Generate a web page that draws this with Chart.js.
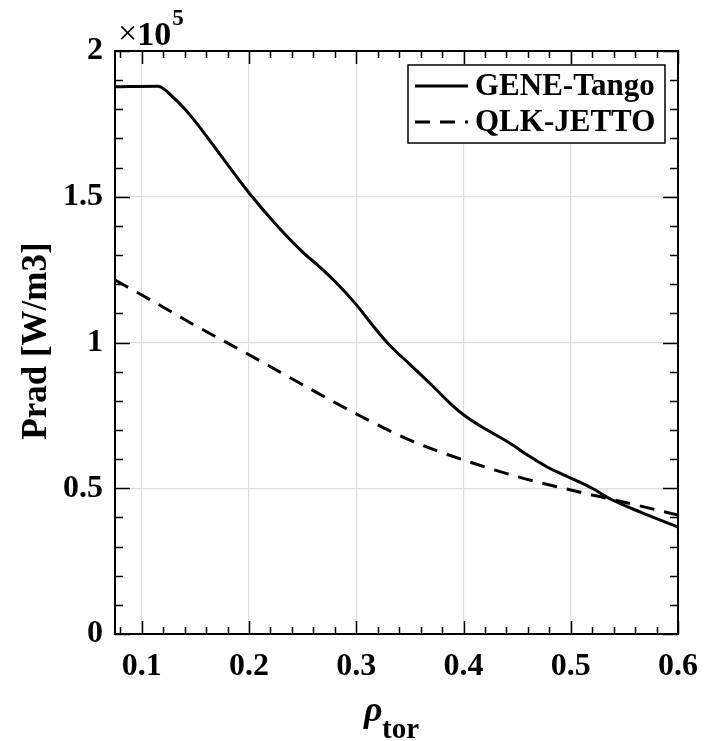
<!DOCTYPE html>
<html>
<head>
<meta charset="utf-8">
<script src="https://cdn.jsdelivr.net/npm/chart.js@4.4.0/dist/chart.umd.min.js"></script>
<style>
  html, body { margin: 0; padding: 0; background: #fff; }
  #wrap { width: 704px; height: 741px; }
</style>
</head>
<body>
<div id="wrap"><canvas id="chartPrad"></canvas></div>
<script>
// Prad radial profile, GENE-Tango vs QLK-JETTO
const rhoGene = [0.075, 0.115, 0.13, 0.145, 0.165, 0.18, 0.2, 0.23, 0.25, 0.265, 0.28, 0.3, 0.315, 0.33, 0.35, 0.37, 0.385, 0.4, 0.415, 0.443, 0.46, 0.478, 0.5, 0.52, 0.537, 0.565, 0.6];
const pradGene = [187700, 187900, 183800, 178000, 168500, 161000, 151300, 138500, 131000, 126200, 121000, 113000, 106000, 99500, 92500, 85500, 80000, 75200, 71500, 65500, 61300, 57300, 53500, 50000, 46300, 41800, 36700];

const rhoQlk = [0.075, 0.1, 0.15, 0.2, 0.25, 0.3, 0.35, 0.4, 0.45, 0.5, 0.55, 0.6];
const pradQlk = [121400, 116300, 105800, 95800, 85500, 75500, 66500, 59700, 54000, 49400, 45200, 40800];

const xMajor = [0.1, 0.2, 0.3, 0.4, 0.5, 0.6];
const yMajor = [0, 50000, 100000, 150000, 200000];

const serif = '"Liberation Serif", "Times New Roman", serif';

function toPoints(xs, ys) {
    return xs.map((x, i) => ({ x: x, y: ys[i] }));
}

// ticks pointing inwards on all four sides, box, legend, axis titles
const decorPlugin = {
    id: 'decor',
    afterDatasetsDraw(chart) {
        const ctx = chart.ctx;
        const a = chart.chartArea;
        const xs = chart.scales.x;
        const ys = chart.scales.y;
        ctx.save();
        ctx.strokeStyle = '#000';
        ctx.lineWidth = 1.5;

        // x ticks
        for (let v = 0.08; v <= 0.6001; v += 0.02) {
            const isMajor = xMajor.some(m => Math.abs(m - v) < 1e-6);
            const len = isMajor ? 13 : 7;
            const px = Math.round(xs.getPixelForValue(v)) + 0.5;
            ctx.beginPath();
            ctx.moveTo(px, a.bottom); ctx.lineTo(px, a.bottom - len);
            ctx.moveTo(px, a.top); ctx.lineTo(px, a.top + len);
            ctx.stroke();
        }
        // y ticks
        for (let v = 0; v <= 200001; v += 10000) {
            const isMajor = yMajor.includes(v);
            const len = isMajor ? 15 : 8;
            const py = Math.round(ys.getPixelForValue(v)) + 0.5;
            ctx.beginPath();
            ctx.moveTo(a.left, py); ctx.lineTo(a.left + len, py);
            ctx.moveTo(a.right, py); ctx.lineTo(a.right - len, py);
            ctx.stroke();
        }
        // box
        ctx.lineWidth = 2;
        ctx.strokeRect(a.left, a.top, a.right - a.left, a.bottom - a.top);

        // legend
        const lx = 408, ly = 65, lw = 257, lh = 78;
        ctx.fillStyle = '#fff';
        ctx.fillRect(lx, ly, lw, lh);
        ctx.lineWidth = 1.5;
        ctx.strokeRect(lx, ly, lw, lh);
        const rows = [86, 122];
        chart.data.datasets.forEach((ds, i) => {
            ctx.beginPath();
            ctx.lineWidth = 3;
            ctx.setLineDash(ds.borderDash || []);
            ctx.moveTo(415, rows[i]); ctx.lineTo(468, rows[i]);
            ctx.stroke();
            ctx.setLineDash([]);
            ctx.fillStyle = '#000';
            ctx.font = 'bold 31px ' + serif;
            ctx.textAlign = 'left';
            ctx.textBaseline = 'middle';
            ctx.fillText(ds.label, 475, rows[i] + 1);
        });

        // exponent above y axis
        ctx.fillStyle = '#000';
        ctx.textAlign = 'left';
        ctx.textBaseline = 'alphabetic';
        ctx.font = '34px ' + serif;
        ctx.fillText('\u00d7', 118, 44);
        const wx = ctx.measureText('\u00d7').width;
        ctx.font = 'bold 34px ' + serif;
        ctx.fillText('10', 118 + wx, 45);
        const w10 = ctx.measureText('10').width;
        ctx.font = 'bold 23px ' + serif;
        ctx.fillText('5', 118 + wx + w10 + 1, 25);

        // y title
        ctx.save();
        ctx.translate(37, 341);
        ctx.rotate(-Math.PI / 2);
        ctx.textAlign = 'center';
        ctx.textBaseline = 'middle';
        ctx.font = 'bold 35px ' + serif;
        ctx.fillText('Prad [W/m3]', 0, 0);
        ctx.restore();

        // x title: rho with subscript
        ctx.textAlign = 'left';
        ctx.textBaseline = 'alphabetic';
        ctx.font = 'italic bold 36px ' + serif;
        ctx.fillText('\u03c1', 364, 721);
        ctx.font = 'bold 29px ' + serif;
        ctx.fillText('tor', 382, 738);
        ctx.restore();
    }
};

new Chart(document.getElementById('chartPrad'), {
    type: 'line',
    data: {
        datasets: [{
            label: 'GENE-Tango',
            data: toPoints(rhoGene, pradGene),
            borderColor: '#000',
            borderWidth: 3,
            pointRadius: 0,
            cubicInterpolationMode: 'monotone'
        }, {
            label: 'QLK-JETTO',
            data: toPoints(rhoQlk, pradQlk),
            borderColor: '#000',
            borderWidth: 3,
            borderDash: [15, 10],
            pointRadius: 0,
            cubicInterpolationMode: 'monotone'
        }]
    },
    options: {
        responsive: true,
        maintainAspectRatio: false,
        animation: false,
        layout: {
            padding: { left: 0, right: 26, top: 51, bottom: 0 }
        },
        scales: {
            x: {
                type: 'linear',
                min: 0.075,
                max: 0.6,
                afterBuildTicks: (scale) => {
                    scale.ticks = xMajor.map(v => ({ value: v }));
                },
                afterFit: (scale) => {
                    scale.height = 107;
                    scale.paddingLeft = 0;
                    scale.paddingRight = 0;
                },
                grid: { color: '#dcdcdc', lineWidth: 1.2, drawTicks: false },
                border: { display: false },
                ticks: {
                    color: '#000',
                    padding: 14,
                    maxRotation: 0,
                    autoSkip: false,
                    font: { family: serif, size: 32, weight: 'bold' },
                    callback: (v) => Number(v).toFixed(1)
                }
            },
            y: {
                min: 0,
                max: 200000,
                afterBuildTicks: (scale) => {
                    scale.ticks = yMajor.map(v => ({ value: v }));
                },
                afterFit: (scale) => {
                    scale.width = 115;
                    scale.paddingTop = 0;
                    scale.paddingBottom = 0;
                },
                grid: { color: '#dcdcdc', lineWidth: 1.2, drawTicks: false },
                border: { display: false },
                ticks: {
                    color: '#000',
                    padding: 12,
                    font: { family: serif, size: 32, weight: 'bold' },
                    callback: (v) => String(v / 100000)
                }
            }
        },
        plugins: {
            legend: { display: false },
            tooltip: { enabled: false }
        }
    },
    plugins: [decorPlugin]
});
</script>
</body>
</html>
